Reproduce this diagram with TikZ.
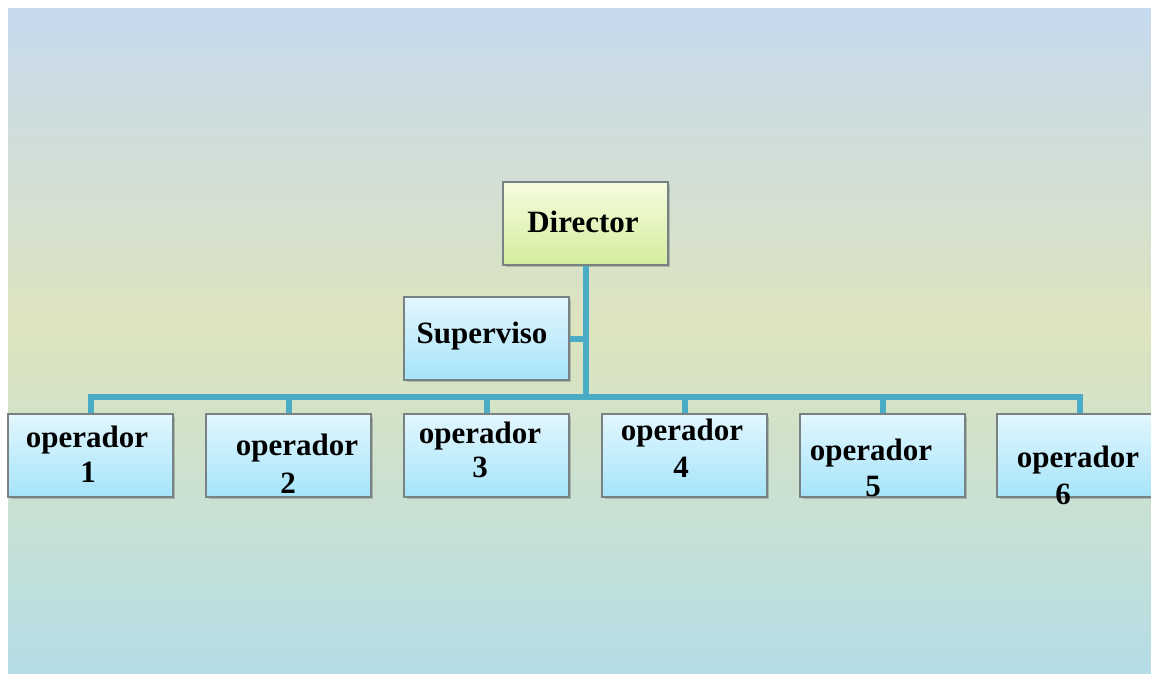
\documentclass[tikz,border=0pt]{standalone}
\usepackage{fontspec}
\setmainfont{Liberation Serif}
\usetikzlibrary{shadows}
\definecolor{bgtop}{RGB}{198,217,238}
\definecolor{bgmid}{RGB}{221,228,190}
\definecolor{bgbot}{RGB}{181,221,230}
\definecolor{conn}{RGB}{75,172,198}
\definecolor{optop}{RGB}{226,246,253}
\definecolor{opbot}{RGB}{166,228,250}
\definecolor{dirtop}{RGB}{246,252,222}
\definecolor{dirbot}{RGB}{212,237,158}
\definecolor{boxline}{RGB}{120,130,130}
\tikzset{
  box/.style={draw=boxline, line width=1.2pt, minimum width=164pt, minimum height=82pt,
    inner sep=0pt, anchor=north west,
    drop shadow={shadow xshift=2.5pt, shadow yshift=-2.5pt, opacity=0.35, fill=black!60}},
  opbox/.style={box, top color=optop, bottom color=opbot},
  dirbox/.style={box, top color=dirtop, bottom color=dirbot},
  lbl/.style={anchor=base, inner sep=0pt, font=\fontsize{31}{37}\selectfont\bfseries},
  connector/.style={draw=conn, line width=6pt, line join=miter}
}
\begin{document}
\begin{tikzpicture}[x=1pt, y=-1pt]
\useasboundingbox (0,0) rectangle (1151,673);
\clip (0,0) rectangle (1151,673);
\fill[white] (0,0) rectangle (1151,673);
\shade[top color=bgtop, bottom color=bgmid] (8,8) rectangle (1151,330);
\shade[top color=bgmid, bottom color=bgbot] (8,329.5) rectangle (1151,673);

\node[dirbox] (dir) at (503,182) {};
\node[opbox] (sup) at (404,297) {};
\node[opbox] (op1) at (8,414) {};
\node[opbox] (op2) at (206,414) {};
\node[opbox] (op3) at (404,414) {};
\node[opbox] (op4) at (602,414) {};
\node[opbox] (op5) at (800,414) {};
\node[opbox] (op6) at (997,414) {};

\coordinate (bus) at (dir.south |- 0,397);

\draw[connector] (dir.south) -- (bus);
\draw[connector] (sup.east) -- (sup.east -| dir.south);
\draw[connector] (op1.north) -- (op1.north |- bus) -- (op6.north |- bus) -- (op6.north);
\foreach \n in {op2,op3,op4,op5}
  \draw[connector] (\n.north) -- (\n.north |- bus);

% redraw boxes' top border over connectors
\foreach \n in {op1,op2,op3,op4,op5,op6,sup,dir}
  \draw[boxline, line width=1.2pt] (\n.north west) rectangle (\n.south east);

\node[lbl] (tdir) at (583,232) {Director};
\node[lbl] (tsup) at (482,343) {Superviso};
\node[lbl] (t1a) at (87,447) {operador};
\node[lbl] (t1b) at (88,482) {1};
\node[lbl] (t2a) at (297,455) {operador};
\node[lbl] (t2b) at (288,493) {2};
\node[lbl] (t3a) at (480,443) {operador};
\node[lbl] (t3b) at (480,477) {3};
\node[lbl] (t4a) at (682,440) {operador};
\node[lbl] (t4b) at (681,477) {4};
\node[lbl] (t5a) at (871,460) {operador};
\node[lbl] (t5b) at (873,496) {5};
\node[lbl] (t6a) at (1078,467) {operador};
\node[lbl] (t6b) at (1063,504) {6};
\end{tikzpicture}
\end{document}
